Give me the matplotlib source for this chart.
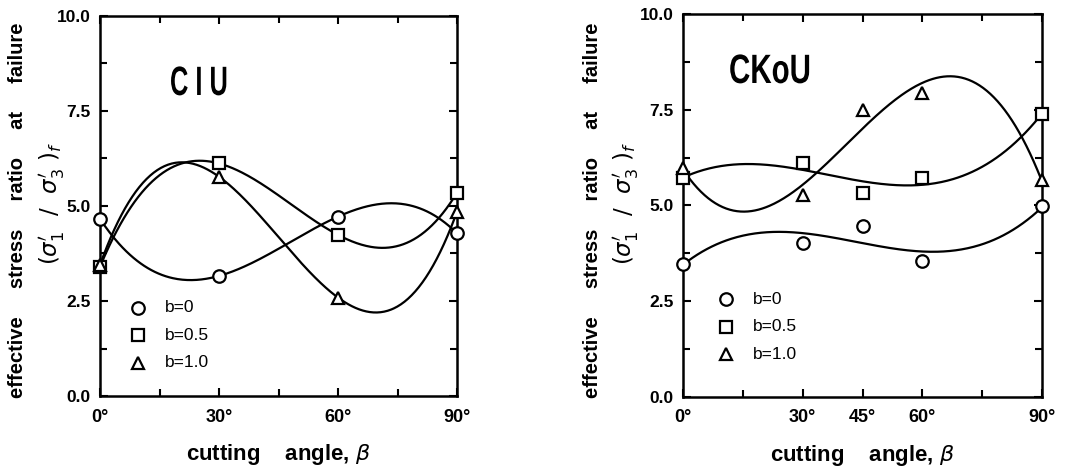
import numpy as np
import matplotlib.pyplot as plt
from matplotlib.textpath import TextPath
from matplotlib.patches import PathPatch
from matplotlib.font_manager import FontProperties
from matplotlib.transforms import Affine2D

# data
angles_ciu = [0, 30, 60, 90]
ciu_b0 = [4.66, 3.16, 4.72, 4.28]
ciu_b05 = [3.40, 6.12, 4.24, 5.35]
ciu_b10 = [3.45, 5.77, 2.59, 4.85]

angles_cko = [0, 30, 45, 60, 90]
cko_b0 = [3.48, 4.03, 4.46, 3.55, 4.98]
cko_b05 = [5.71, 6.10, 5.33, 5.71, 7.38]
cko_b10 = [5.97, 5.27, 7.49, 7.93, 5.66]

legend_labels = ['b=0', 'b=0.5', 'b=1.0']
markers = ['o', 's', '^']

plt.rcParams['font.family'] = ['Liberation Sans', 'DejaVu Sans']
plt.rcParams['mathtext.fontset'] = 'dejavusans'

fig = plt.figure(figsize=(10.7, 4.67), dpi=100)
ax1 = fig.add_axes([100/1070, 1-396/467, 357/1070, 380/467])
ax2 = fig.add_axes([683/1070, 1-397/467, 359/1070, 383/467])


def smooth(ax, xs, ys, deg):
    coef = np.polyfit(xs, ys, deg)
    xx = np.linspace(0, 90, 300)
    ax.plot(xx, np.polyval(coef, xx), color='black', lw=1.6, zorder=2)


def narrow_title(s, x_px, y_px, xscale):
    # condensed bold lettering, like the stencil titles of the original
    tp = TextPath((0, 0), s, size=29.5, prop=FontProperties(family='Liberation Sans', weight='bold'))
    tr = Affine2D().scale(xscale / 72, 1 / 72).translate(x_px / 100, (467 - y_px) / 100) + fig.dpi_scale_trans
    fig.add_artist(PathPatch(tp, transform=tr, facecolor='black', edgecolor='none'))


def setup(ax, xticks):
    ax.set_xlim(0, 90)
    ax.set_ylim(0, 10)
    ax.set_yticks([0, 2.5, 5, 7.5, 10])
    ax.set_yticklabels(['0.0', '2.5', '5.0', '7.5', '10.0'], fontweight='bold', fontsize=12.5)
    ax.set_yticks(np.arange(0, 10.01, 1.25), minor=True)
    ax.set_xticks(xticks)
    ax.set_xticklabels([f'{t}°' for t in xticks], fontweight='bold', fontsize=13)
    ax.set_xticks(range(0, 91, 15), minor=True)
    ax.tick_params(which='both', direction='in', top=True, right=True, width=1.5)
    ax.tick_params(which='major', length=6, pad=7)
    ax.tick_params(axis='x', which='major', pad=9)
    ax.tick_params(which='minor', length=5)
    for s in ax.spines.values():
        s.set_linewidth(1.8)
    ax.set_xlabel(r'cutting    angle, $\mathit{\beta}$', fontweight='bold', fontsize=16, labelpad=12)


def draw(ax, xs, series, legend_pos):
    for ys, m in zip(series, markers):
        ax.plot(xs, ys, linestyle='none', marker=m, ms=9, mfc='white', mec='black', mew=1.6,
                zorder=3, clip_on=False)
    x0, y0 = legend_pos
    for i, (lab, m) in enumerate(zip(legend_labels, markers)):
        yy = y0 - i * 0.072
        ax.plot([x0], [yy], transform=ax.transAxes, marker=m, ms=9, mfc='white', mec='black',
                mew=1.6, linestyle='none', clip_on=False)
        ax.text(x0 + 0.075, yy, lab, transform=ax.transAxes, fontsize=12.5, va='center')


setup(ax1, [0, 30, 60, 90])
for ys in [ciu_b0, ciu_b05, ciu_b10]:
    smooth(ax1, angles_ciu, ys, 3)
draw(ax1, angles_ciu, [ciu_b0, ciu_b05, ciu_b10], (0.106, 0.232))
narrow_title('C I U', 170, 95, 0.62)

setup(ax2, [0, 30, 45, 60, 90])
for ys in [cko_b0, cko_b05, cko_b10]:
    smooth(ax2, angles_cko, ys, 3)
draw(ax2, angles_cko, [cko_b0, cko_b05, cko_b10], (0.12, 0.255))
narrow_title('CKoU', 729, 83, 0.72)

for ax, x1, x2 in [(ax1, 18, 52), (ax2, 593, 626)]:
    fig.text(x1/1070, 1-210/467, 'effective     stress     ratio     at     failure', rotation=90,
             fontweight='bold', fontsize=14.5, ha='center', va='center')
    fig.text(x2/1070, 1-203/467, r"$(\sigma_1'\ \ /\ \ \sigma_3'\ )_f$", rotation=90,
             fontsize=16.5, ha='center', va='center')

fig.savefig('out.png', dpi=100)
